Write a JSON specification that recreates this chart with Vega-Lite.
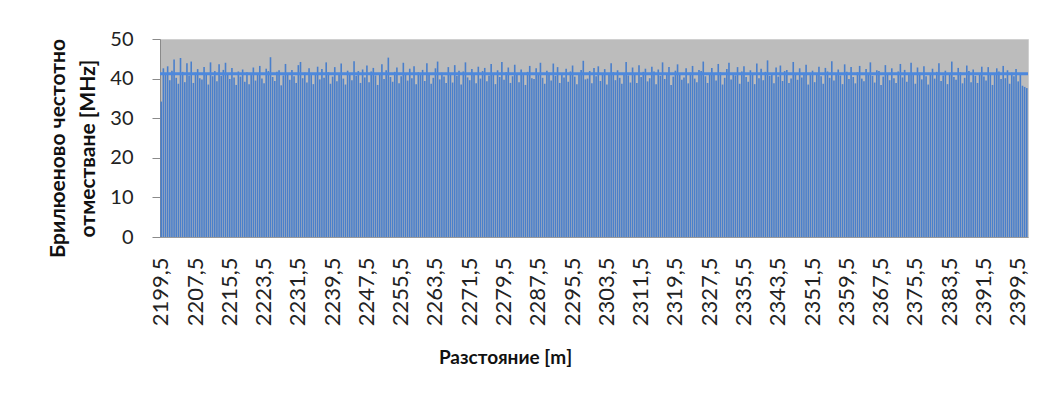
{
"$schema": "https://vega.github.io/schema/vega-lite/v6.json",
"width": 868, "height": 198,
"autosize": {"type": "none"},
"padding": {"left": 160, "top": 39, "right": 19, "bottom": 163},
"background": "white",
"config": {"view": {"fill": "#bcbcbc", "stroke": "#d0d0d0"}, "font": "Lato, Open Sans, sans-serif"},
"encoding": {
"y": {"field": "v", "type": "quantitative", "scale": {"domain": [0, 50], "nice": false},
 "axis": {"values": [0,10,20,30,40,50], "grid": false, "tickSize": 8, "tickColor": "#8a8a8a", "domainColor": "#8a8a8a",
  "labelFontSize": 20, "labelPadding": 19, "labelColor": "#222222", "labelOverlap": false, "labelFlush": false, "labelBound": false,
  "title": ["Брилюеново честотно", "отместване [MHz]"], "titleFontSize": 21, "titleFontWeight": "bold", "titleColor": "#111111",
  "titleLineHeight": 30, "titleX": -92, "titleY": 109, "titleAngle": -90, "titleAlign": "center", "titleBaseline": "bottom"}}
},
"layer": [
{"data": {"values": [
{"d":2199.5,"v":34.2},{"d":2200,"v":42.6},{"d":2200.5,"v":41.3},{"d":2201,"v":43.1},{"d":2201.5,"v":39.6},{"d":2202,"v":42.0},{"d":2202.5,"v":44.8},{"d":2203,"v":40.2},{"d":2203.5,"v":38.7},{"d":2204,"v":45.2},{"d":2204.5,"v":41.7},{"d":2205,"v":39.1},{"d":2205.5,"v":43.9},{"d":2206,"v":40.8},{"d":2206.5,"v":44.3},
{"d":2207,"v":38.9},{"d":2207.5,"v":41.5},{"d":2208,"v":42.4},{"d":2208.5,"v":40.1},{"d":2209,"v":39.8},{"d":2209.5,"v":42.9},{"d":2210,"v":41.2},{"d":2210.5,"v":38.5},{"d":2211,"v":44.1},{"d":2211.5,"v":40.6},{"d":2212,"v":41.9},{"d":2212.5,"v":39.3},{"d":2213,"v":43.6},{"d":2213.5,"v":40.7},{"d":2214,"v":42.2},
{"d":2214.5,"v":44.0},{"d":2215,"v":41.4},{"d":2215.5,"v":39.9},{"d":2216,"v":42.7},{"d":2216.5,"v":40.3},{"d":2217,"v":38.4},{"d":2217.5,"v":41.8},{"d":2218,"v":40.5},{"d":2218.5,"v":42.3},{"d":2219,"v":39.2},{"d":2219.5,"v":41.6},{"d":2220,"v":38.6},{"d":2220.5,"v":40.9},{"d":2221,"v":42.8},{"d":2221.5,"v":39.5},
{"d":2222,"v":41.1},{"d":2222.5,"v":43.2},{"d":2223,"v":40.0},{"d":2223.5,"v":38.8},{"d":2224,"v":42.5},{"d":2224.5,"v":41.9},{"d":2225,"v":45.4},{"d":2225.5,"v":40.4},{"d":2226,"v":39.4},{"d":2226.5,"v":41.7},{"d":2227,"v":42.1},{"d":2227.5,"v":38.3},{"d":2228,"v":40.8},{"d":2228.5,"v":43.7},{"d":2229,"v":41.0},
{"d":2229.5,"v":39.7},{"d":2230,"v":42.2},{"d":2230.5,"v":40.6},{"d":2231,"v":38.9},{"d":2231.5,"v":43.4},{"d":2232,"v":44.2},{"d":2232.5,"v":40.1},{"d":2233,"v":41.5},{"d":2233.5,"v":39.0},{"d":2234,"v":42.6},{"d":2234.5,"v":40.9},{"d":2235,"v":38.6},{"d":2235.5,"v":41.3},{"d":2236,"v":43.0},{"d":2236.5,"v":39.8},
{"d":2237,"v":42.4},{"d":2237.5,"v":40.2},{"d":2238,"v":44.1},{"d":2238.5,"v":41.6},{"d":2239,"v":38.7},{"d":2239.5,"v":40.5},{"d":2240,"v":42.9},{"d":2240.5,"v":39.3},{"d":2241,"v":41.2},{"d":2241.5,"v":43.8},{"d":2242,"v":40.0},{"d":2242.5,"v":38.5},{"d":2243,"v":42.0},{"d":2243.5,"v":41.4},{"d":2244,"v":39.6},
{"d":2244.5,"v":44.4},{"d":2245,"v":40.7},{"d":2245.5,"v":41.9},{"d":2246,"v":38.9},{"d":2246.5,"v":42.3},{"d":2247,"v":40.3},{"d":2247.5,"v":43.3},{"d":2248,"v":39.1},{"d":2248.5,"v":41.8},{"d":2249,"v":42.7},{"d":2249.5,"v":40.8},{"d":2250,"v":38.4},{"d":2250.5,"v":41.0},{"d":2251,"v":43.6},{"d":2251.5,"v":39.9},
{"d":2252,"v":42.1},{"d":2252.5,"v":45.3},{"d":2253,"v":40.4},{"d":2253.5,"v":39.2},{"d":2254,"v":41.7},{"d":2254.5,"v":42.8},{"d":2255,"v":38.8},{"d":2255.5,"v":40.6},{"d":2256,"v":44.0},{"d":2256.5,"v":41.1},{"d":2257,"v":39.5},{"d":2257.5,"v":42.5},{"d":2258,"v":40.1},{"d":2258.5,"v":43.1},{"d":2259,"v":38.6},
{"d":2259.5,"v":41.6},{"d":2260,"v":40.9},{"d":2260.5,"v":42.2},{"d":2261,"v":39.4},{"d":2261.5,"v":43.9},{"d":2262,"v":41.3},{"d":2262.5,"v":38.7},{"d":2263,"v":40.2},{"d":2263.5,"v":42.6},{"d":2264,"v":44.3},{"d":2264.5,"v":39.8},{"d":2265,"v":41.5},{"d":2265.5,"v":40.5},{"d":2266,"v":38.9},{"d":2266.5,"v":42.9},
{"d":2267,"v":41.2},{"d":2267.5,"v":39.0},{"d":2268,"v":43.4},{"d":2268.5,"v":40.7},{"d":2269,"v":42.0},{"d":2269.5,"v":38.5},{"d":2270,"v":41.8},{"d":2270.5,"v":44.1},{"d":2271,"v":40.3},{"d":2271.5,"v":39.6},{"d":2272,"v":42.4},{"d":2272.5,"v":41.0},{"d":2273,"v":38.8},{"d":2273.5,"v":43.0},{"d":2274,"v":40.0},
{"d":2274.5,"v":41.9},{"d":2275,"v":42.7},{"d":2275.5,"v":39.3},{"d":2276,"v":40.8},{"d":2276.5,"v":43.7},{"d":2277,"v":41.4},{"d":2277.5,"v":38.6},{"d":2278,"v":42.1},{"d":2278.5,"v":40.4},{"d":2279,"v":44.2},{"d":2279.5,"v":39.7},{"d":2280,"v":41.6},{"d":2280.5,"v":42.8},{"d":2281,"v":38.9},{"d":2281.5,"v":40.6},
{"d":2282,"v":43.5},{"d":2282.5,"v":41.1},{"d":2283,"v":39.1},{"d":2283.5,"v":42.3},{"d":2284,"v":40.9},{"d":2284.5,"v":38.4},{"d":2285,"v":41.7},{"d":2285.5,"v":43.2},{"d":2286,"v":40.1},{"d":2286.5,"v":39.9},{"d":2287,"v":42.6},{"d":2287.5,"v":41.3},{"d":2288,"v":44.0},{"d":2288.5,"v":40.2},{"d":2289,"v":38.7},
{"d":2289.5,"v":42.0},{"d":2290,"v":41.5},{"d":2290.5,"v":39.5},{"d":2291,"v":43.8},{"d":2291.5,"v":40.7},{"d":2292,"v":42.9},{"d":2292.5,"v":38.9},{"d":2293,"v":41.0},{"d":2293.5,"v":40.3},{"d":2294,"v":42.5},{"d":2294.5,"v":39.2},{"d":2295,"v":41.8},{"d":2295.5,"v":43.3},{"d":2296,"v":40.5},{"d":2296.5,"v":38.6},
{"d":2297,"v":41.4},{"d":2297.5,"v":42.2},{"d":2298,"v":44.5},{"d":2298.5,"v":39.8},{"d":2299,"v":40.0},{"d":2299.5,"v":41.9},{"d":2300,"v":38.8},{"d":2300.5,"v":42.7},{"d":2301,"v":40.6},{"d":2301.5,"v":43.1},{"d":2302,"v":39.4},{"d":2302.5,"v":41.2},{"d":2303,"v":42.4},{"d":2303.5,"v":38.5},{"d":2304,"v":40.9},
{"d":2304.5,"v":43.9},{"d":2305,"v":41.6},{"d":2305.5,"v":39.6},{"d":2306,"v":42.1},{"d":2306.5,"v":40.2},{"d":2307,"v":38.7},{"d":2307.5,"v":41.3},{"d":2308,"v":44.2},{"d":2308.5,"v":40.8},{"d":2309,"v":39.0},{"d":2309.5,"v":42.8},{"d":2310,"v":41.1},{"d":2310.5,"v":38.9},{"d":2311,"v":43.4},{"d":2311.5,"v":40.4},
{"d":2312,"v":41.7},{"d":2312.5,"v":42.5},{"d":2313,"v":39.3},{"d":2313.5,"v":40.1},{"d":2314,"v":43.0},{"d":2314.5,"v":41.8},{"d":2315,"v":38.6},{"d":2315.5,"v":42.3},{"d":2316,"v":40.7},{"d":2316.5,"v":44.1},{"d":2317,"v":39.9},{"d":2317.5,"v":41.4},{"d":2318,"v":42.9},{"d":2318.5,"v":38.4},{"d":2319,"v":40.5},
{"d":2319.5,"v":42.0},{"d":2320,"v":43.6},{"d":2320.5,"v":41.0},{"d":2321,"v":39.7},{"d":2321.5,"v":40.3},{"d":2322,"v":42.6},{"d":2322.5,"v":38.8},{"d":2323,"v":41.5},{"d":2323.5,"v":43.2},{"d":2324,"v":40.0},{"d":2324.5,"v":39.1},{"d":2325,"v":42.2},{"d":2325.5,"v":41.9},{"d":2326,"v":44.3},{"d":2326.5,"v":40.6},
{"d":2327,"v":38.9},{"d":2327.5,"v":41.2},{"d":2328,"v":42.7},{"d":2328.5,"v":40.9},{"d":2329,"v":39.5},{"d":2329.5,"v":43.7},{"d":2330,"v":41.6},{"d":2330.5,"v":38.5},{"d":2331,"v":40.2},{"d":2331.5,"v":42.4},{"d":2332,"v":44.0},{"d":2332.5,"v":39.8},{"d":2333,"v":41.3},{"d":2333.5,"v":40.8},{"d":2334,"v":42.9},
{"d":2334.5,"v":38.7},{"d":2335,"v":41.8},{"d":2335.5,"v":43.1},{"d":2336,"v":40.4},{"d":2336.5,"v":39.2},{"d":2337,"v":42.1},{"d":2337.5,"v":41.1},{"d":2338,"v":38.6},{"d":2338.5,"v":43.8},{"d":2339,"v":40.1},{"d":2339.5,"v":42.5},{"d":2340,"v":39.6},{"d":2340.5,"v":41.7},{"d":2341,"v":44.6},{"d":2341.5,"v":40.7},
{"d":2342,"v":41.4},{"d":2342.5,"v":38.8},{"d":2343,"v":42.8},{"d":2343.5,"v":40.5},{"d":2344,"v":43.3},{"d":2344.5,"v":39.4},{"d":2345,"v":41.9},{"d":2345.5,"v":42.2},{"d":2346,"v":38.9},{"d":2346.5,"v":40.0},{"d":2347,"v":44.2},{"d":2347.5,"v":41.2},{"d":2348,"v":39.7},{"d":2348.5,"v":42.6},{"d":2349,"v":40.3},
{"d":2349.5,"v":41.5},{"d":2350,"v":43.5},{"d":2350.5,"v":38.5},{"d":2351,"v":40.9},{"d":2351.5,"v":42.0},{"d":2352,"v":39.1},{"d":2352.5,"v":41.0},{"d":2353,"v":43.0},{"d":2353.5,"v":40.6},{"d":2354,"v":38.7},{"d":2354.5,"v":42.7},{"d":2355,"v":41.8},{"d":2355.5,"v":40.2},{"d":2356,"v":44.4},{"d":2356.5,"v":39.5},
{"d":2357,"v":41.3},{"d":2357.5,"v":42.3},{"d":2358,"v":40.8},{"d":2358.5,"v":38.6},{"d":2359,"v":43.6},{"d":2359.5,"v":41.7},{"d":2360,"v":39.9},{"d":2360.5,"v":42.9},{"d":2361,"v":40.4},{"d":2361.5,"v":38.8},{"d":2362,"v":41.6},{"d":2362.5,"v":43.2},{"d":2363,"v":40.0},{"d":2363.5,"v":39.3},{"d":2364,"v":42.4},
{"d":2364.5,"v":41.1},{"d":2365,"v":44.1},{"d":2365.5,"v":40.7},{"d":2366,"v":39.0},{"d":2366.5,"v":42.1},{"d":2367,"v":41.9},{"d":2367.5,"v":38.4},{"d":2368,"v":40.5},{"d":2368.5,"v":43.4},{"d":2369,"v":41.4},{"d":2369.5,"v":39.6},{"d":2370,"v":42.6},{"d":2370.5,"v":40.1},{"d":2371,"v":38.9},{"d":2371.5,"v":41.8},
{"d":2372,"v":43.7},{"d":2372.5,"v":40.3},{"d":2373,"v":42.2},{"d":2373.5,"v":39.2},{"d":2374,"v":41.0},{"d":2374.5,"v":44.0},{"d":2375,"v":40.9},{"d":2375.5,"v":38.7},{"d":2376,"v":42.8},{"d":2376.5,"v":41.5},{"d":2377,"v":39.8},{"d":2377.5,"v":43.1},{"d":2378,"v":40.6},{"d":2378.5,"v":38.5},{"d":2379,"v":41.2},
{"d":2379.5,"v":42.5},{"d":2380,"v":40.0},{"d":2380.5,"v":41.7},{"d":2381,"v":43.9},{"d":2381.5,"v":39.4},{"d":2382,"v":40.8},{"d":2382.5,"v":42.0},{"d":2383,"v":38.6},{"d":2383.5,"v":41.3},{"d":2384,"v":44.3},{"d":2384.5,"v":40.4},{"d":2385,"v":39.7},{"d":2385.5,"v":42.7},{"d":2386,"v":41.6},{"d":2386.5,"v":38.8},
{"d":2387,"v":40.2},{"d":2387.5,"v":43.3},{"d":2388,"v":41.9},{"d":2388.5,"v":39.1},{"d":2389,"v":42.3},{"d":2389.5,"v":40.7},{"d":2390,"v":38.9},{"d":2390.5,"v":41.4},{"d":2391,"v":43.0},{"d":2391.5,"v":40.5},{"d":2392,"v":39.5},{"d":2392.5,"v":42.9},{"d":2393,"v":41.1},{"d":2393.5,"v":38.4},{"d":2394,"v":40.9},
{"d":2394.5,"v":42.6},{"d":2395,"v":41.8},{"d":2395.5,"v":39.9},{"d":2396,"v":43.2},{"d":2396.5,"v":40.1},{"d":2397,"v":42.1},{"d":2397.5,"v":38.7},{"d":2398,"v":41.5},{"d":2398.5,"v":40.6},{"d":2399,"v":42.4},{"d":2399.5,"v":39.3},{"d":2400,"v":41.0},{"d":2400.5,"v":38.2},{"d":2401,"v":37.9},{"d":2401.5,"v":37.6}
]},
"mark": {"type": "bar", "color": "#4a7fcb"},
"encoding": {
"x": {"field": "d", "type": "ordinal", "sort": null,
 "scale": {"paddingInner": 0.25, "paddingOuter": 0.2},
 "axis": {"values": [2199.5,2207.5,2215.5,2223.5,2231.5,2239.5,2247.5,2255.5,2263.5,2271.5,2279.5,2287.5,2295.5,2303.5,2311.5,2319.5,2327.5,2335.5,2343.5,2351.5,2359.5,2367.5,2375.5,2383.5,2391.5,2399.5],
  "labelExpr": "replace(datum.label, '.', ',')", "labelAngle": -90, "labelAlign": "right", "labelBaseline": "middle",
  "labelPadding": 20, "labelFontSize": 22, "labelColor": "#222222", "labelOverlap": false, "ticks": false, "domainColor": "#9a9a9a",
  "title": "Разстояние [m]", "titleFontSize": 19, "titleFontWeight": "bold", "titleColor": "#111111",
  "titleX": 345, "titleY": 120, "titleAlign": "center", "titleBaseline": "middle"}}
}},
{"data": {"values": [{"v": 41.2}]},
 "mark": {"type": "rule", "color": "#4d88dd", "strokeWidth": 3},
 "encoding": {}}
]
}
